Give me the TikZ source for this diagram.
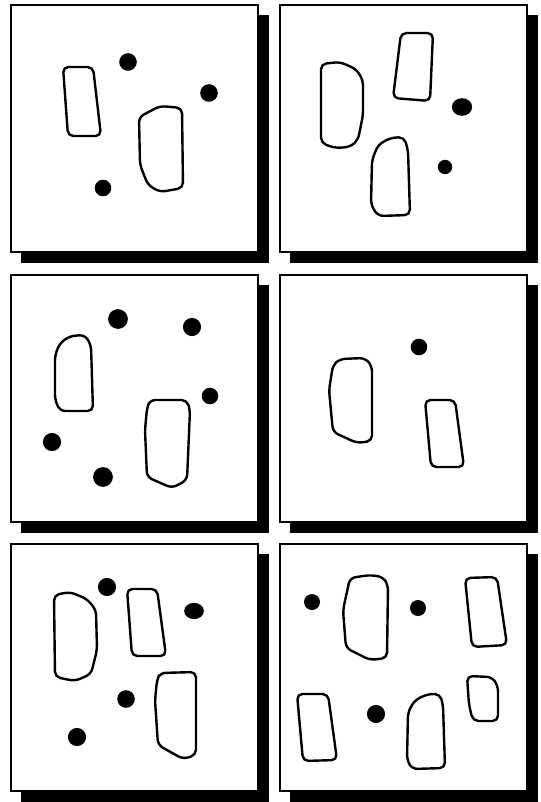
\documentclass[tikz,border=0pt]{standalone}
\begin{document}
\begin{tikzpicture}[x=0.75pt,y=-0.75pt,
  shadowbox/.style={fill=black},
  panelbox/.style={draw=black,fill=white,line width=1.1pt},
  blob/.style={draw=black,line width=1.8pt,rounded corners=4pt,line join=round},
  spot/.style={fill=black}]
\useasboundingbox (0,0) rectangle (541,802);
% panels with shadows
\foreach \px/\py in {11/5,280/5,11/275,280/275,11/544,280/544}{
  \fill[shadowbox] (\px+10,\py+10) rectangle (\px+258,\py+258);
  \draw[panelbox] (\px,\py) rectangle (\px+247,\py+247);
}
% ---- panel 1
\draw[blob] (63,67) -- (93,67) -- (101,136) -- (68,136) -- cycle;
\draw[blob] (139,117) -- (160,106) -- (182,108) -- (183,188) -- (160,192) -- (148,185) -- (140,165) -- cycle;
\fill[spot] (128,62) circle[radius=6.6pt];
\fill[spot] (209,93) circle[radius=6.6pt];
\fill[spot] (103,188) circle[radius=6.2pt];
% ---- panel 2
\draw[blob] (321,64) -- (340,62) -- (356,69) -- (363,80) -- (363,115) -- (358,140) -- (350,147) -- (335,148) -- (321,143) -- cycle;
\draw[blob] (401,33) -- (433,33) -- (430,101) -- (393,98) -- cycle;
\draw[blob] (372,160) -- (378,145) -- (390,138) -- (404,137) -- (408,150) -- (410,215) -- (378,216) -- (371,205) -- cycle;
\fill[spot] (462,107) ellipse[x radius=7.6pt,y radius=6.6pt];
\fill[spot] (445,167) circle[radius=5.4pt];
% ---- panel 3
\draw[blob] (55,355) -- (60,343) -- (70,336) -- (85,335) -- (91,345) -- (93,411) -- (60,411) -- (55,400) -- cycle;
\draw[blob] (150,400) -- (187,400) -- (190,410) -- (187,480) -- (172,488) -- (147,477) -- (145,430) -- (147,408) -- cycle;
\fill[spot] (118,319) circle[radius=7.4pt];
\fill[spot] (192,327) circle[radius=6.8pt];
\fill[spot] (210,396) circle[radius=6.2pt];
\fill[spot] (52,442) circle[radius=6.8pt];
\fill[spot] (103,477) circle[radius=7.4pt];
% ---- panel 4
\draw[blob] (333,365) -- (340,359) -- (365,358) -- (372,366) -- (372,441) -- (357,443) -- (333,432) -- (329,390) -- cycle;
\draw[blob] (425,400) -- (455,400) -- (464,467) -- (431,467) -- cycle;
\fill[spot] (419,347) circle[radius=6.2pt];
% ---- panel 5
\draw[blob] (54,595) -- (70,592) -- (87,599) -- (96,610) -- (97,650) -- (91,674) -- (75,681) -- (55,677) -- cycle;
\draw[blob] (127,589) -- (157,589) -- (166,656) -- (132,656) -- cycle;
\draw[blob] (160,673) -- (196,672) -- (196,755) -- (183,759) -- (158,745) -- (155,700) -- (157,680) -- cycle;
\fill[spot] (107,587) circle[radius=6.8pt];
\fill[spot] (194,611) ellipse[x radius=7.4pt,y radius=6.1pt];
\fill[spot] (126,699) circle[radius=6.6pt];
\fill[spot] (77,737) circle[radius=6.8pt];
% ---- panel 6
\draw[blob] (350,578) -- (370,575) -- (383,577) -- (388,585) -- (387,658) -- (370,660) -- (346,648) -- (343,610) -- cycle;
\draw[blob] (465,578) -- (497,577) -- (507,645) -- (472,647) -- cycle;
\draw[blob] (467,676) -- (492,677) -- (498,686) -- (498,721) -- (473,721) -- (469,705) -- cycle;
\draw[blob] (297,694) -- (328,694) -- (337,760) -- (303,761) -- cycle;
\draw[blob] (408,712) -- (415,700) -- (428,694) -- (440,694) -- (443,705) -- (445,768) -- (412,769) -- (407,760) -- cycle;
\fill[spot] (312,602) circle[radius=6pt];
\fill[spot] (418,608) circle[radius=6pt];
\fill[spot] (376,714) circle[radius=6.8pt];
\end{tikzpicture}
\end{document}
